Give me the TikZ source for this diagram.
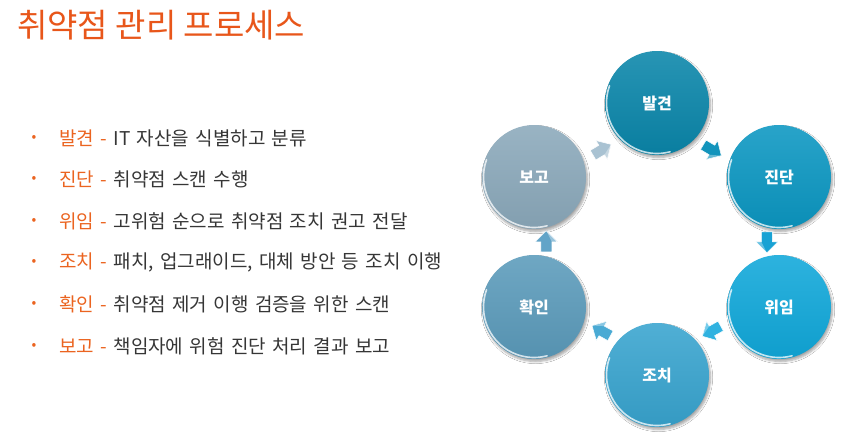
\documentclass[tikz,border=0pt]{standalone}
\usepackage{fontspec}
\setmainfont{Noto Sans CJK KR}
\newfontfamily\listfont[WordSpace=1.5]{Noto Sans CJK KR}
\usepackage{xcolor}
\usetikzlibrary{arrows.meta, positioning, calc, shadows.blur}
\definecolor{TitleOrange}{HTML}{E8561A}
\definecolor{LabelOrange}{HTML}{EB6420}
\definecolor{BodyText}{HTML}{363636}
\definecolor{BallA}{HTML}{0A86AA}
\definecolor{BallB}{HTML}{0B97C2}
\definecolor{BallC}{HTML}{10A8DA}
\definecolor{BallD}{HTML}{38A4CF}
\definecolor{BallE}{HTML}{5B9BBB}
\definecolor{BallF}{HTML}{8BA9BB}
\definecolor{ArrA}{HTML}{1294BC}
\definecolor{ArrB}{HTML}{18A2D4}
\definecolor{ArrC}{HTML}{30B2E0}
\definecolor{ArrD}{HTML}{4AAAD4}
\definecolor{ArrE}{HTML}{62A4C8}
\definecolor{ArrF}{HTML}{A9C2D2}

\begin{document}
\begin{tikzpicture}[
    x=1pt, y=-1pt,
    heading/.style={
        anchor=west, inner sep=0pt, font=\fontsize{33}{38}\selectfont, text=TitleOrange
    },
    bullet/.style={
        inner sep=0pt, font=\fontsize{14}{16}\selectfont, text=LabelOrange
    },
    item/.style={
        anchor=west, inner sep=0pt, font=\listfont\fontsize{19}{22}\selectfont, text=BodyText
    },
    ball/.style={
        circle, minimum size=104pt, inner sep=0pt, draw=none,
        top color=#1!88!white, bottom color=#1!94!black,
        blur shadow={shadow xshift=1.5pt, shadow yshift=-2.5pt, shadow blur steps=6, shadow opacity=35},
        font=\bfseries\fontsize{16}{18}\selectfont, text=white
    },
    rim/.style={
        white, opacity=0.75, line width=1.6pt, line cap=round
    },
    stagearrow/.pic={
        \fill[#1, draw=white, line width=0.5pt, line join=round]
            (-10,-5.5) -- (0,-5.5) -- (0,-11) -- (11,0) -- (0,11) -- (0,5.5) -- (-10,5.5) -- cycle;
        \fill[white, opacity=0.35] (0,5.5) -- (11,0) -- (0,11) -- cycle;
    }
]
    \useasboundingbox[fill=white] (0,0) rectangle (857,439);

    % Title
    \node[heading] (title) at (17,25) {취약점 관리 프로세스};

    % Bullet list
    \foreach \lab/\desc [count=\i] in {
        발견/IT 자산을 식별하고 분류,
        진단/취약점 스캔 수행,
        위임/고위험 순으로 취약점 조치 권고 전달,
        조치/{패치, 업그래이드, 대체 방안 등 조치 이행},
        확인/취약점 제거 이행 검증을 위한 스캔,
        보고/책임자에 위험 진단 처리 결과 보고}
    {
        \pgfmathsetmacro{\rowy}{138 + (\i-1)*41.6}
        \node[bullet] (dot\i) at (34,\rowy) {•};
        \node[item] (item\i) at (59,\rowy) {\textcolor{LabelOrange}{\lab{} -} \desc};
    }

    % Cycle
    \coordinate (hub) at (657,240);
    \node[ball=BallA] (b1) at (657,103) {발견};
    \node[ball=BallB] (b2) at (779,177) {진단};
    \node[ball=BallC] (b3) at (779,307) {위임};
    \node[ball=BallD] (b4) at (657,375) {조치};
    \node[ball=BallE] (b5) at (534,307) {확인};
    \node[ball=BallF] (b6) at (534,177) {보고};

    % Glossy rims
    \foreach \i in {1,...,6} {
        \begin{scope}[shift={(b\i.center)}, y=1pt]
            \draw[rim] (160:50.5) arc[start angle=160, end angle=285, radius=50.5];
        \end{scope}
    }

    % Arrows between stages
    \foreach \a/\b/\ang/\col in {b1/b2/-31/ArrA, b2/b3/-90/ArrB, b3/b4/-151/ArrC,
                                 b4/b5/151/ArrD, b5/b6/90/ArrE, b6/b1/31/ArrF}
    {
        \pic[rotate=\ang] at ($(\a)!0.5!(\b)!0.1!(hub)$) {stagearrow=\col};
    }

\end{tikzpicture}
\end{document}
